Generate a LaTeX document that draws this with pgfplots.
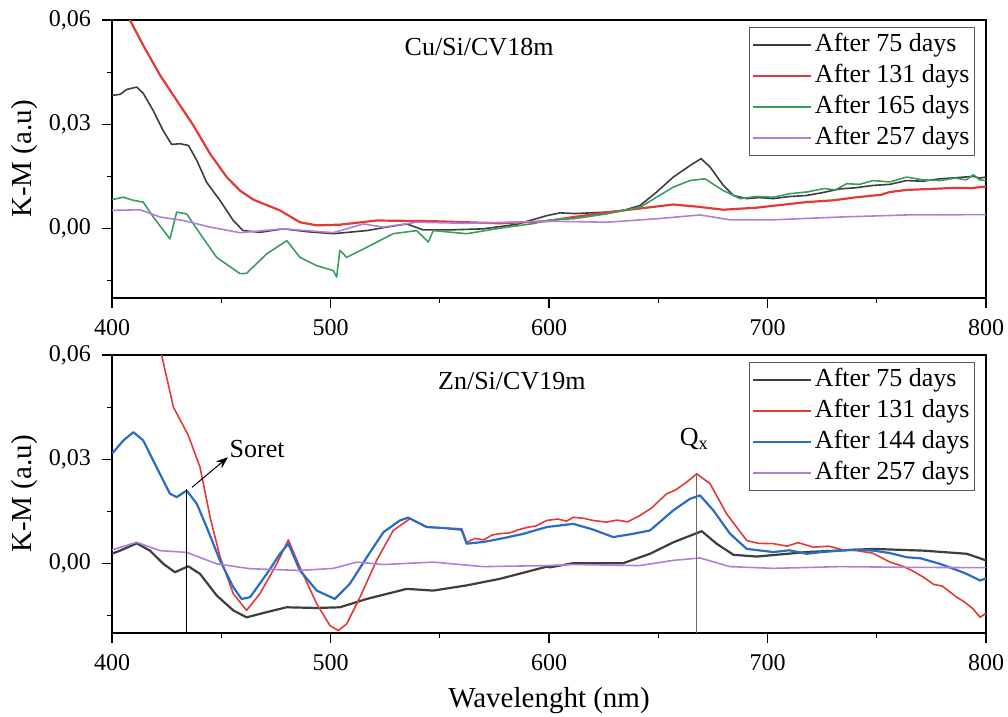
\documentclass[border=0pt]{standalone}
\usepackage{pgfplots}
\pgfplotsset{compat=1.18}
\usepackage{fontspec}
\setmainfont{Liberation Serif}
\usetikzlibrary{arrows.meta}

\definecolor{cblack}{HTML}{3E3E3E}
\definecolor{cred}{HTML}{E23B35}
\definecolor{cgreen}{HTML}{3A9E5E}
\definecolor{cpurple}{HTML}{B07FD8}
\definecolor{cblue}{HTML}{2B6CC4}

\pgfplotsset{
  kmaxis/.style={
    scale only axis,
    width=437pt, height=139pt,
    xmin=400, xmax=800, ymin=-0.02, ymax=0.06,
    xtick={400,500,600,700,800},
    minor xtick={450,550,650,750},
    ytick={0,0.03,0.06},
    yticklabels={{0,00},{0,03},{0,06}},
    minor ytick={-0.015,0.015,0.045},
    xtick pos=bottom, ytick pos=left,
    tick align=outside,
    major tick length=5pt, minor tick length=2.5pt,
    every tick/.style={black, line width=0.6pt},
    axis line style={black, line width=0.6pt},
    /pgf/number format/assume math mode=true,
    ticklabel style={font=\fontsize{12}{14}\selectfont},
    xticklabel style={yshift=-2pt},
    yticklabel style={xshift=-2pt},
    scaled y ticks=false,
    every axis y label/.style={at={(axis description cs:0,0.5)}, xshift=-43.5pt, rotate=90, anchor=center, font=\fontsize{14.5}{16}\selectfont},
    every axis x label/.style={at={(axis description cs:0.5,0)}, yshift=-34pt, anchor=center, font=\fontsize{14.5}{16}\selectfont},
    ylabel={K-M (a.u)},
    legend style={at={(1,1)}, anchor=north east, xshift=-5.5pt, yshift=-3.5pt,
      draw=black!65, line width=0.5pt, font=\fontsize{13}{15}\selectfont,
      row sep=0pt, inner xsep=1pt, inner ysep=1pt,
      nodes={inner ysep=1.5pt, inner xsep=1.5pt, text height=9.5pt, text depth=3pt, anchor=west}},
    legend cell align=left,
    legend image code/.code={\draw[#1] (0pt,0pt) -- (29pt,0pt);},
    every axis plot/.append style={line width=0.8pt, line join=round},
  }
}

\begin{document}
\begin{tikzpicture}
\begin{axis}[kmaxis, name=top, at={(56pt,209.5pt)}, anchor=south west]
% After 75 days
\addplot[cblack] coordinates {
(400,0.0383)(403.7,0.0386)(406.7,0.0400)(411.3,0.0407)(414.3,0.0389)(418.8,0.0340)(423.4,0.0282)(427.3,0.0242)(431.1,0.0244)(435,0.0239)(438.8,0.0196)(443.3,0.0133)(449.4,0.0081)(455.5,0.0023)(460,-0.0006)(467.7,-0.0011)(478.4,-0.0001)(489,-0.0009)(501.3,-0.0015)(516.6,-0.0006)(525.7,0.0004)(534.9,0.0013)(542.5,-0.0004)(554.7,-0.0004)(569.9,-0.0001)(585.2,0.0012)(599,0.0037)(605,0.0045)(612,0.0043)(618.8,0.0045)(626,0.0047)(634,0.0052)(641.6,0.0066)(649.3,0.0105)(656.9,0.0148)(664.5,0.0181)(669.6,0.0201)(673.7,0.0177)(679.8,0.0124)(684.4,0.0095)(690.5,0.0086)(696,0.0089)(702.7,0.0086)(710,0.0092)(717.9,0.0095)(725,0.0103)(733.2,0.0114)(740,0.0117)(748.4,0.0124)(756,0.0127)(763.7,0.0138)(771,0.0136)(778.9,0.0143)(786,0.0146)(794.2,0.0150)(797,0.0145)(800,0.0148)
};
\addlegendentry{After 75 days}
% After 131 days
\addplot[cred, line width=1.1pt] coordinates {
(400,0.0698)(408.2,0.0600)(414.3,0.0527)(422,0.0441)(429.6,0.0369)(437.2,0.0297)(444.9,0.0215)(452.5,0.0148)(458.6,0.0109)(464.7,0.0083)(476.9,0.0052)(486,0.0018)(493.7,0.0009)(504.3,0.0011)(521.1,0.0023)(547,0.0021)(577.6,0.0015)(599,0.0021)(611.1,0.0033)(634,0.0052)(656.9,0.0069)(667.6,0.0063)(679.8,0.0054)(695.1,0.0060)(717.9,0.0076)(730,0.0081)(740.8,0.0090)(752,0.0097)(756,0.0105)(763.7,0.0111)(775,0.0114)(786.6,0.0117)(793,0.0116)(800,0.0121)
};
\addlegendentry{After 131 days}
% After 165 days
\addplot[cgreen] coordinates {
(400,0.0083)(405.2,0.0090)(409.8,0.0081)(414.3,0.0076)(418.9,0.0033)(426.5,-0.0030)(429.6,0.0047)(434.2,0.0042)(440.3,-0.0015)(447.9,-0.0083)(458.6,-0.0130)(461.6,-0.0129)(470.8,-0.0073)(480,-0.0035)(486,-0.0083)(493.7,-0.0107)(501.3,-0.0121)(502.8,-0.0140)(504.3,-0.0063)(507.4,-0.0083)(516.6,-0.0054)(528.7,-0.0015)(539.4,-0.0006)(544.8,-0.0039)(547,-0.0006)(562.3,-0.0015)(577.6,0.0001)(592.8,0.0014)(600.5,0.0025)(611.1,0.0028)(626.4,0.0042)(641.6,0.0061)(656.9,0.0119)(664.5,0.0138)(671.4,0.0143)(679.8,0.0109)(687.4,0.0086)(695,0.0092)(702.7,0.0090)(710,0.0100)(717.9,0.0105)(726,0.0115)(731,0.0111)(736.2,0.0129)(742,0.0127)(748.4,0.0138)(756,0.0134)(763.7,0.0148)(771,0.0140)(778.9,0.0138)(786,0.0145)(791,0.0140)(794.2,0.0155)(797,0.0140)(800,0.0138)
};
\addlegendentry{After 165 days}
% After 257 days
\addplot[cpurple] coordinates {
(400,0.0052)(412.8,0.0054)(422,0.0033)(432.6,0.0023)(444.9,0.0004)(458.6,-0.0012)(478.4,-0.0001)(501.3,-0.0012)(515,0.0013)(524.2,0.0004)(539.4,0.0018)(562.3,0.0015)(600.5,0.0021)(626.4,0.0018)(649.3,0.0028)(669.1,0.0039)(682.8,0.0025)(702.7,0.0025)(733.2,0.0033)(763.7,0.0039)(800,0.0040)
};
\addlegendentry{After 257 days}
\node[font=\fontsize{13}{15}\selectfont] at (axis cs:568,0.0522) {Cu/Si/CV18m};
\end{axis}

\begin{axis}[kmaxis, name=bot, at={(56pt,42pt)}, anchor=south west, xlabel={Wavelenght (nm)}]
% After 75 days
\addplot[cblack, line width=1.1pt] coordinates {
(400,0.0028)(403.7,0.0037)(411.3,0.0058)(417.4,0.0037)(423.5,-0.0001)(428.8,-0.0025)(434.9,-0.0008)(440.3,-0.0030)(447.9,-0.0092)(455.5,-0.0135)(461.6,-0.0155)(470.8,-0.0140)(479.9,-0.0126)(493.7,-0.0128)(504.3,-0.0126)(516.6,-0.0102)(534.9,-0.0073)(547,-0.0078)(562.3,-0.0063)(577.6,-0.0044)(599,-0.0009)(600.5,-0.0011)(611.1,0.0001)(634,0.0001)(646.2,0.0028)(656.9,0.0061)(669.9,0.0093)(676.7,0.0057)(684.4,0.0025)(695.1,0.0020)(717.9,0.0033)(748.4,0.0042)(771.3,0.0037)(791.2,0.0028)(800,0.0009)
};
\addlegendentry{After 75 days}
% After 131 days
\addplot[cred] coordinates {
(418,0.0720)(422.7,0.0600)(428.1,0.0450)(434.9,0.0369)(440.3,0.0277)(444.9,0.0133)(449.5,0.0018)(455.5,-0.0087)(461.6,-0.0135)(467.7,-0.0087)(475.4,-0.0001)(480.7,0.0068)(486,-0.0011)(493.7,-0.0116)(499.8,-0.0179)(503.6,-0.0193)(507.4,-0.0174)(513.5,-0.0097)(521.1,0.0009)(528.7,0.0095)(536.4,0.0129)(544,0.0105)(552,0.0102)(560,0.0100)(562.3,0.0061)(566,0.0072)(570,0.0068)(574,0.0082)(577.6,0.0086)(582,0.0088)(586,0.0097)(590,0.0104)(594,0.0108)(599,0.0124)(604,0.0128)(608,0.0122)(611.1,0.0133)(616,0.0130)(620,0.0124)(626.4,0.0119)(631,0.0125)(636,0.0120)(641.6,0.0138)(647,0.0160)(653.9,0.0201)(658,0.0212)(663,0.0234)(667.6,0.0258)(673.7,0.0230)(681.3,0.0143)(690.5,0.0066)(696,0.0058)(702.7,0.0057)(709,0.0050)(714,0.0060)(721,0.0047)(728,0.0050)(734,0.0040)(740.8,0.0037)(748,0.0030)(756.1,0.0004)(762,-0.0008)(766,-0.0020)(771.3,-0.0039)(776,-0.0060)(780,-0.0065)(786.6,-0.0097)(790,-0.0110)(794,-0.0130)(797.3,-0.0155)(800,-0.0143)
};
\addlegendentry{After 131 days}
% After 144 days
\addplot[cblue, line width=1.1pt] coordinates {
(400,0.0316)(405.2,0.0354)(409.8,0.0378)(414.3,0.0354)(420.4,0.0277)(426.5,0.0201)(429.6,0.0191)(434.2,0.0210)(438.8,0.0172)(443.3,0.0105)(449.4,0.0009)(455.5,-0.0068)(459.3,-0.0102)(463.2,-0.0097)(470.8,-0.0030)(476.9,0.0028)(480.7,0.0057)(486,-0.0020)(493.7,-0.0078)(502,-0.0102)(508.9,-0.0058)(516.6,0.0018)(524.2,0.0090)(531.8,0.0124)(535.6,0.0132)(544,0.0105)(552,0.0102)(560,0.0097)(562.3,0.0057)(570,0.0062)(577.6,0.0071)(588,0.0085)(599,0.0105)(611.1,0.0114)(620,0.0098)(629.4,0.0076)(638,0.0085)(646.2,0.0095)(656.9,0.0153)(664.5,0.0186)(669.1,0.0196)(675.2,0.0153)(682.8,0.0086)(690.5,0.0042)(702.7,0.0033)(710,0.0038)(717.9,0.0028)(725,0.0033)(733.2,0.0037)(740,0.0040)(748.4,0.0037)(756,0.0030)(763.7,0.0018)(770,0.0015)(778.9,-0.0001)(785,-0.0015)(791.2,-0.0030)(797.3,-0.0049)(800,-0.0043)
};
\addlegendentry{After 144 days}
% After 257 days
\addplot[cpurple] coordinates {
(400,0.0039)(411.3,0.0061)(422,0.0037)(434.2,0.0032)(447.9,-0.0001)(463.2,-0.0015)(486,-0.0020)(501.3,-0.0014)(512,0.0004)(524.2,-0.0003)(547,0.0004)(569.9,-0.0009)(599,-0.0006)(611.1,-0.0003)(641.6,-0.0006)(656.9,0.0009)(669.1,0.0016)(682.8,-0.0009)(702.7,-0.0014)(733.2,-0.0009)(763.7,-0.0011)(800,-0.0012)
};
\addlegendentry{After 257 days}
\node[font=\fontsize{13}{15}\selectfont] at (axis cs:583,0.0525) {Zn/Si/CV19m};
\draw[black, line width=0.5pt] (axis cs:434.3,0.0213) -- (axis cs:434.3,-0.02);
\draw[black, line width=0.5pt, -{Stealth[length=6pt,width=4.5pt]}] (axis cs:436.6,0.0219) -- (axis cs:453.1,0.0306);
\node[font=\fontsize{13}{15}\selectfont] at (axis cs:466.4,0.0329) {Soret};
\draw[black!60, line width=0.5pt] (axis cs:667.3,0.026) -- (axis cs:667.3,-0.02);
\node[font=\fontsize{13}{15}\selectfont] at (axis cs:666.5,0.0358) {Q\textsubscript{x}};
\end{axis}
\pgfresetboundingbox
\path[use as bounding box] (0,0) rectangle (504pt,358.5pt);
\end{tikzpicture}
\end{document}
